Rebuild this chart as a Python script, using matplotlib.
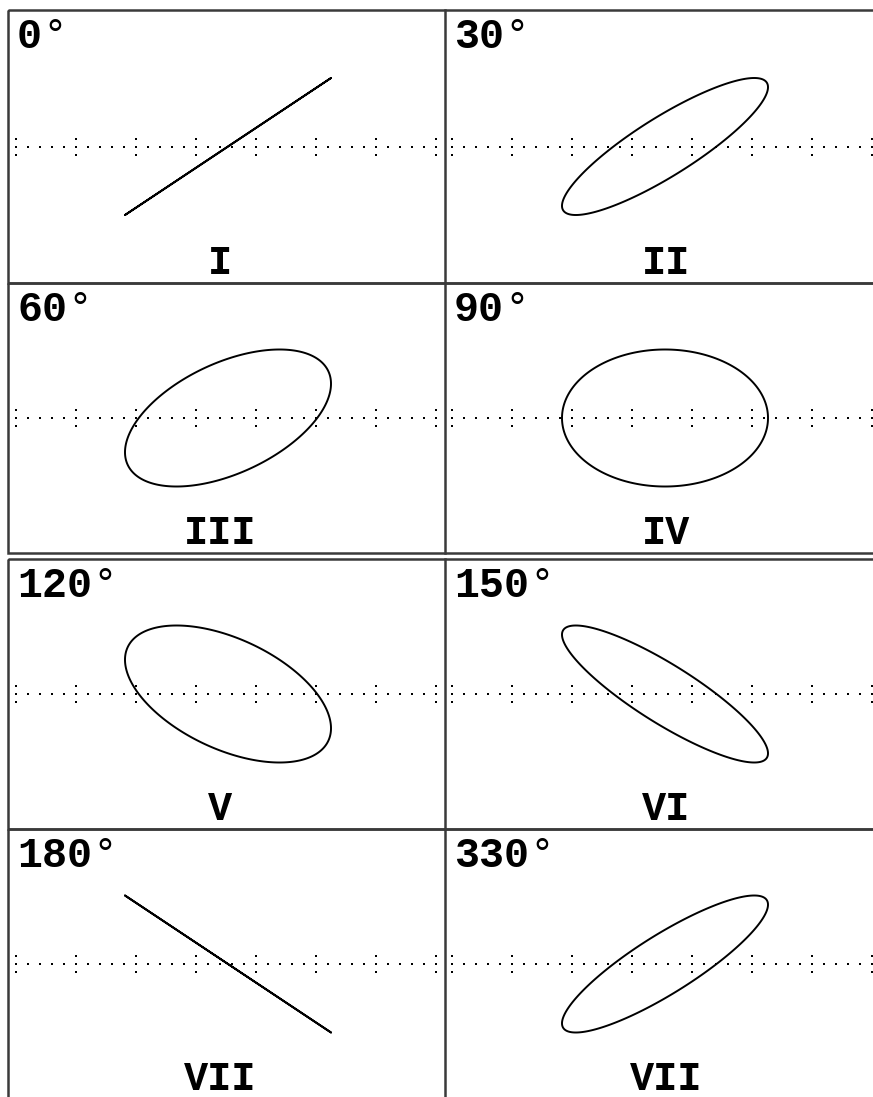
import numpy as np
import matplotlib.pyplot as plt

# phase shift between the two sine inputs, one scope trace per panel
phases = [0, 30, 60, 90, 120, 150, 180, 330]
labels = ['I', 'II', 'III', 'IV', 'V', 'VI', 'VII', 'VII']

W, H = 873, 1097
row_top = [10, 283, 559, 829]
row_bot = [283, 553, 829, 1099]
col_left = [8, 445]
col_right = [445, 873]
curve_cx = [228, 665]      # trace centre in each column (px)
label_cx = [220, 666]      # roman numeral centre in each column (px)
amp_x, amp_y = 103, 68.5   # deflection of a unit sine (px)

fig = plt.figure(figsize=(W / 100, H / 100), dpi=100)
bg = fig.add_axes([0, 0, 1, 1])
bg.set_xlim(0, W)
bg.set_ylim(H, 0)
bg.axis('off')

edge = '#3a3a3a'
mono = 'Liberation Mono'

# frames and centre divider
for top, bot in zip(row_top, row_bot):
    bg.add_patch(plt.Rectangle((8, top), 900, bot - top, fill=False,
                               edgecolor=edge, lw=1.8))
    bg.plot([445, 445], [top, bot], color=edge, lw=1.8)

# dotted horizontal graticule with small tick marks
for top, bot in zip(row_top, row_bot):
    cy = (top + bot) / 2
    for start in (16, 452):
        xs = start + 12 * np.arange(36)
        bg.plot(xs, np.full(len(xs), cy), ls='none', marker='s', ms=1.6,
                mew=0, color='k')
        ticks = xs[::5]
        for dy in (-8, 8):
            bg.plot(ticks, np.full(len(ticks), cy + dy), ls='none', marker='s',
                    ms=1.6, mew=0, color='k')

t = np.linspace(0, 2 * np.pi, 720, endpoint=False)
for i, (deg, lab) in enumerate(zip(phases, labels)):
    r, c = i // 2, i % 2
    x0, x1 = col_left[c], col_right[c]
    y0, y1 = row_top[r], row_bot[r]
    cy = (y0 + y1) / 2
    cx = curve_cx[c]

    ax = fig.add_axes([x0 / W, 1 - y1 / H, (x1 - x0) / W, (y1 - y0) / H])
    ax.set_xlim((x0 - cx) / amp_x, (x1 - cx) / amp_x)
    ax.set_ylim((cy - y1) / amp_y, (cy - y0) / amp_y)
    ax.axis('off')
    # closed trace so the seam gets a proper join
    ax.fill(np.sin(t), np.sin(t + np.radians(deg)), facecolor='none',
            edgecolor='k', lw=1.4, joinstyle='round')

    # phase angle in the corner
    tx = x0 + 9
    s = str(deg)
    bg.text(tx, y0 + 38, s, fontfamily=mono, fontweight='bold', fontsize=30,
            va='baseline', ha='left', color='k')
    bg.text(tx + 25 * len(s), y0 + 38, '°', fontfamily=mono, fontsize=30,
            va='baseline', ha='left', color='k')

    # roman numeral under the trace
    base = y1 - 9 if r < 3 else 1090
    bg.text(label_cx[c], base, lab, fontfamily=mono, fontweight='bold',
            fontsize=29, va='baseline', ha='center', color='k')

fig.savefig('out.png', dpi=100)
